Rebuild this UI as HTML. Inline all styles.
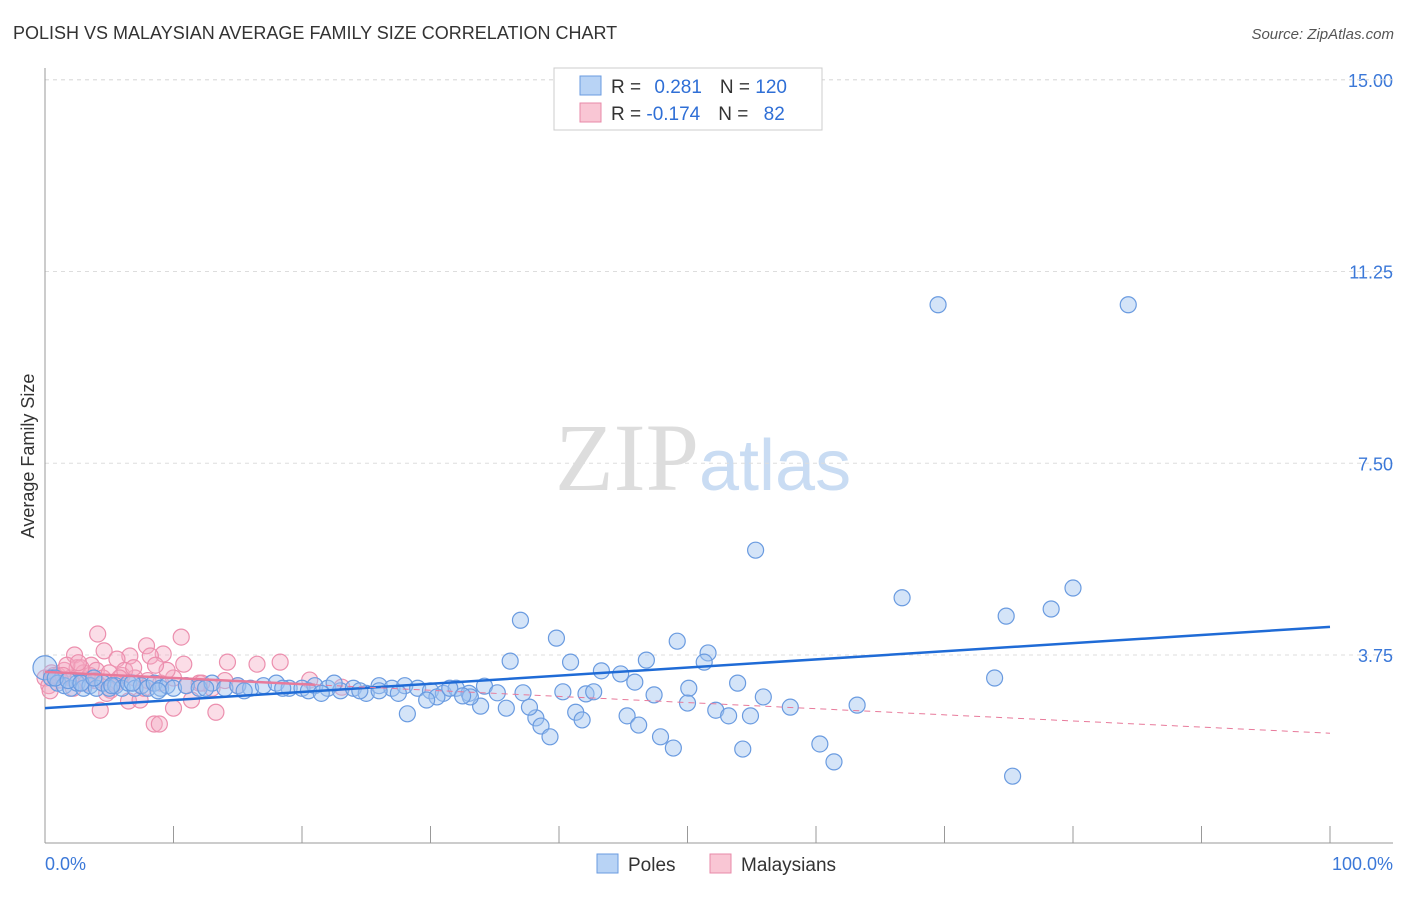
<!DOCTYPE html>
<html><head><meta charset="utf-8"><style>
body{margin:0;background:#fff;font-family:"Liberation Sans",sans-serif;}
</style></head><body>
<svg id="chart" width="1406" height="892" xmlns="http://www.w3.org/2000/svg" font-family="Liberation Sans, sans-serif">
<text x="13" y="39" font-size="18" fill="#333">POLISH VS MALAYSIAN AVERAGE FAMILY SIZE CORRELATION CHART</text>
<text x="1394" y="39" font-size="15" fill="#555" font-style="italic" text-anchor="end">Source: ZipAtlas.com</text>
<text x="555" y="490" font-size="96" font-family="Liberation Serif, serif" fill="#ddd">ZIP<tspan fill="#c9dcf3" font-family="Liberation Sans, sans-serif" font-size="72">atlas</tspan></text>
<g id="grid"></g>
<g id="axes"></g>
<g id="pts"></g>
<g id="lines"></g>
<text transform="translate(34,456) rotate(-90)" font-size="18" fill="#333" text-anchor="middle">Average Family Size</text>
<text x="45" y="870" font-size="18" fill="#3b78d8">0.0%</text>
<text x="1393" y="870" font-size="18" fill="#3b78d8" text-anchor="end">100.0%</text>
<g>
<rect x="554" y="68" width="268" height="62" fill="#fff" stroke="#ccc"/>
<rect x="580" y="76" width="21" height="19" fill="#b8d3f5" stroke="#6a9be0"/>
<rect x="580" y="103" width="21" height="19" fill="#f9c6d4" stroke="#e889a8"/>
<text x="611" y="93" font-size="19" fill="#333">R = <tspan fill="#2f6fd6" dx="8">0.281</tspan><tspan dx="18" fill="#333">N = </tspan><tspan fill="#2f6fd6">120</tspan></text>
<text x="611" y="120" font-size="19" fill="#333">R = <tspan fill="#2f6fd6">-0.174</tspan><tspan dx="18" fill="#333">N = </tspan><tspan fill="#2f6fd6" dx="10">82</tspan></text>
</g>
<g>
<rect x="597" y="854" width="21" height="19" fill="#b8d3f5" stroke="#6a9be0"/>
<text x="628" y="871" font-size="19" fill="#333">Poles</text>
<rect x="710" y="854" width="21" height="19" fill="#f9c6d4" stroke="#e889a8"/>
<text x="741" y="871" font-size="19" fill="#333">Malaysians</text>
</g>
</svg>
<script>
const yTicks=[15,11.25,7.5,3.75];
const yTickLabels=["15.00","11.25","7.50","3.75"];
const xTicks=[0,10,20,30,40,50,60,70,80,90,100];
const blueX=[0,0.5,1,1.5,2,2.5,3,3.5,4,4.5,5,5.5,6,6.5,7,7.5,8,8.5,9,9.5,10,11,12,13,14,15,16,17,18,19,20,21,22,23,24,25,26,27,28,29,30,31,32,33,0.8,1.8,2.8,3.8,5.2,6.8,8.8,12.5,15.5,18.5,22.5,24.5,
69.5,84.3,55.3,66.7,80.0,78.3,74.8,37.0,39.8,49.2,51.6,36.2,40.9,46.8,51.3,43.3,44.8,45.9,73.9,53.9,50.1,47.4,55.9,50.0,52.2,53.2,54.9,58.0,63.2,45.3,46.2,47.9,48.9,54.3,60.3,61.4,75.3,38.2,38.6,39.3,41.3,41.8,37.7,28.2,40.3,42.1,42.7,37.2,34.2,35.2,35.9,33.9,33.1,30.5,29.7,26,27.5,31.5,32.5,20.5,21.5];
const blueY=[3.5,3.3,3.2,3.15,3.1,3.2,3.1,3.15,3.1,3.2,3.1,3.15,3.1,3.2,3.1,3.15,3.1,3.2,3.1,3.15,3.1,3.15,3.1,3.2,3.1,3.15,3.1,3.15,3.2,3.1,3.1,3.15,3.1,3.05,3.1,3.0,3.15,3.1,3.15,3.1,3.05,3.0,3.1,3.0,3.3,3.25,3.2,3.3,3.15,3.2,3.05,3.1,3.05,3.1,3.2,3.05,
10.6,10.6,5.8,4.87,5.06,4.65,4.51,4.43,4.08,4.02,3.79,3.63,3.61,3.65,3.61,3.44,3.38,3.22,3.30,3.20,3.10,2.97,2.93,2.81,2.67,2.56,2.56,2.73,2.77,2.56,2.38,2.15,1.93,1.91,2.01,1.66,1.38,2.52,2.36,2.15,2.63,2.48,2.73,2.60,3.03,2.99,3.03,3.01,3.14,3.01,2.71,2.75,2.93,2.93,2.87,3.05,3.0,3.1,2.95,3.05,3.0];
const pinkX=[4.1,10.6,7.9,2.3,4.6,6.6,9.2,14.2,16.5,18.3,8.2,10.8,5.6,3.6,4.3,6.5,7.4,8.5,8.9,10.0,11.4,13.3,5.1,20.6,23.1,0,0.5,1,1.5,2,2.5,3,3.5,4,4.5,5,5.5,6,7,8,9,10,11,12,13,14,15,1.2,2.8,3.2,0.3,0.7,1.7,2.2,3.9,4.8,6.2,7.7,9.5,12.2,0.4,1.4,2.6,5.8,6.9,8.6];
const pinkY=[4.16,4.10,3.93,3.75,3.83,3.73,3.77,3.61,3.57,3.61,3.73,3.57,3.67,3.55,2.67,2.85,2.87,2.40,2.40,2.71,2.87,2.63,3.06,3.26,3.12,3.3,3.4,3.35,3.45,3.3,3.5,3.4,3.35,3.45,3.3,3.4,3.2,3.35,3.3,3.25,3.2,3.3,3.15,3.2,3.1,3.25,3.15,3.26,3.5,3.2,3.15,3.35,3.55,3.1,3.25,3.0,3.45,3.1,3.45,3.2,3.05,3.35,3.6,3.3,3.5,3.55];
const blueFit=[2.71,4.30];
const pinkFit=[3.42,2.22];
const X=p=>45+p*12.85, Y=v=>655-(v-3.75)*51.13;
const NS="http://www.w3.org/2000/svg";
function mk(t,a,parent){const e=document.createElementNS(NS,t);for(const k in a)e.setAttribute(k,a[k]);document.getElementById(parent).appendChild(e);return e;}
yTicks.forEach((v,i)=>{
 const g=mk('line',{x1:45,x2:1393,y1:Y(v),y2:Y(v),stroke:'#ddd','stroke-dasharray':'4,4'},'grid');
 
 
 const t=mk('text',{x:1393,y:Y(v)+7,'font-size':18,fill:'#3b78d8','text-anchor':'end'},'grid');t.textContent=yTickLabels[i];
 
 
});
mk('line',{x1:45,x2:1393,y1:Y(15)+0,y2:Y(15),stroke:'#ddd','stroke-dasharray':'4,4'},'grid');
const ax=mk('line',{x1:45,x2:45,y1:68,y2:843,stroke:'#999'},'axes');


const bx=mk('line',{x1:45,x2:1393,y1:843,y2:843,stroke:'#999'},'axes');


xTicks.forEach(p=>{const t=mk('line',{x1:X(p),x2:X(p),y1:826,y2:843,stroke:'#999'},'axes');
 
 });
pinkX.forEach((p,i)=>{const c=mk('circle',{cx:X(p),cy:Y(pinkY[i]),r:8,fill:'rgba(246,170,196,0.4)',stroke:'#ec8fae','stroke-width':1.2},'pts');
 
 });
blueX.forEach((p,i)=>{const c=mk('circle',{cx:X(p),cy:Y(blueY[i]),r:i==0?12:8,fill:'rgba(160,196,240,0.45)',stroke:'#6a9be0','stroke-width':1.2},'pts');
 
 });
const bl=mk('line',{x1:X(0),y1:Y(blueFit[0]),x2:X(100),y2:Y(blueFit[1]),stroke:'#1f6bd6','stroke-width':2.5},'lines');


const f=p=>pinkFit[0]+(pinkFit[1]-pinkFit[0])*p/100;
const pl=mk('line',{x1:X(0),y1:Y(f(0)),x2:X(21),y2:Y(f(21)),stroke:'#e87a9b','stroke-width':2.5},'lines');


const pd=mk('line',{x1:X(21),y1:Y(f(21)),x2:X(100),y2:Y(f(100)),stroke:'#e87a9b','stroke-width':1,'stroke-dasharray':'6,5'},'lines');


</script>
</body></html>
